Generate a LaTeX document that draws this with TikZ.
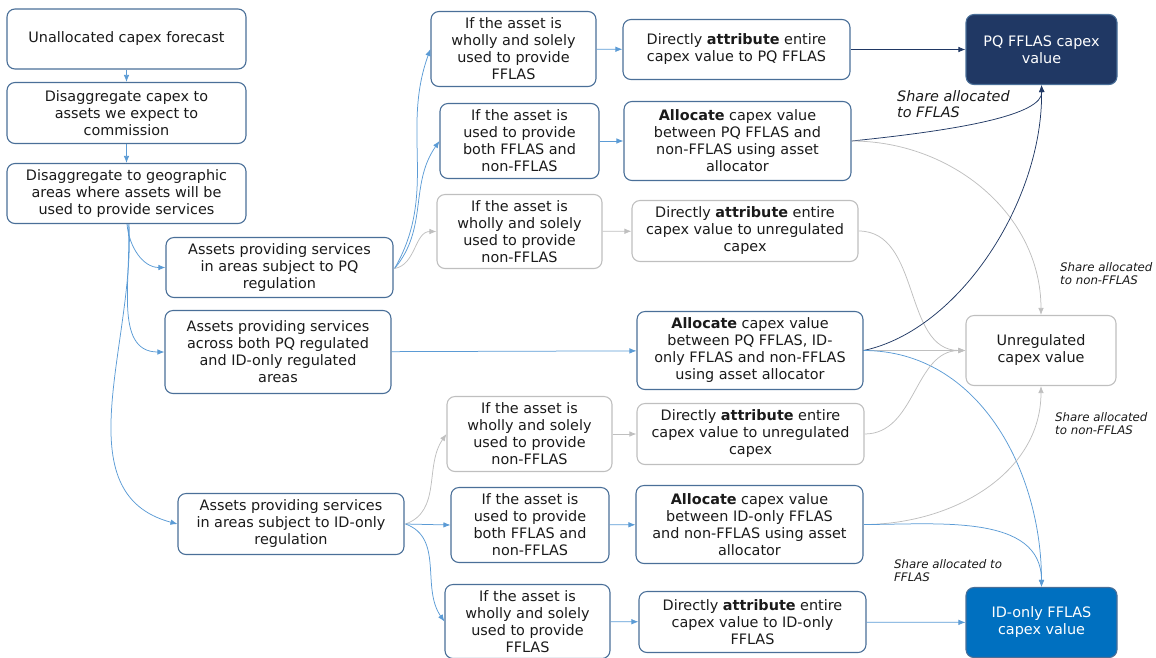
\documentclass[tikz,border=0pt]{standalone}
\usepackage{fontspec}
\setmainfont{DejaVu Sans}
\usetikzlibrary{arrows.meta}
\definecolor{bord}{HTML}{4A6F98}
\definecolor{grayb}{HTML}{BFBFBF}
\definecolor{arblue}{HTML}{5B9BD5}
\definecolor{navy}{HTML}{203864}
\definecolor{idblue}{HTML}{0070C0}
\definecolor{txt}{HTML}{1A1A1A}
\tikzset{
  box/.style={draw=bord, line width=1.1pt, rounded corners=8pt, align=center,
    font=\fontsize{14.4}{17}\selectfont, inner sep=1pt, text=txt},
  gbox/.style={box, draw=grayb},
  ar/.style={-{Latex[length=7pt,width=5.5pt]}, line width=0.75pt},
  bl/.style={ar, draw=arblue},
  nv/.style={ar, draw=navy},
  gr/.style={ar, draw=grayb},
  lblbig/.style={font=\fontsize{14.4}{16}\selectfont\itshape, align=left, inner sep=0pt, anchor=west, text=txt},
  lblsm/.style={font=\fontsize{11.8}{13}\selectfont\itshape, align=left, inner sep=0pt, anchor=west, text=txt}
}
\begin{document}
\begin{tikzpicture}[x=1pt,y=-1pt]
\useasboundingbox (0,0) rectangle (1156,657);
% left column
\node[box, minimum width=239, minimum height=60] (n1) at (126.5,39) {Unallocated capex forecast};
\node[box, minimum width=239, minimum height=61] (n2) at (126.5,113) {Disaggregate capex to\\assets we expect to\\commission};
\node[box, minimum width=239, minimum height=60] (n3) at (126.5,193.5) {Disaggregate to geographic\\areas where assets will be\\used to provide services};
\node[box, minimum width=227, minimum height=60] (n4) at (279.5,267.5) {Assets providing services\\in areas subject to PQ\\regulation};
\node[box, minimum width=226, minimum height=83] (n5) at (278,352) {Assets providing services\\across both PQ regulated\\and ID-only regulated\\areas};
\node[box, minimum width=226, minimum height=61] (n6) at (291,524) {Assets providing services\\in areas subject to ID-only\\regulation};
% PQ group
\node[box, minimum width=165, minimum height=75] (n7) at (513.5,49) {If the asset is\\wholly and solely\\used to provide\\FFLAS};
\node[box, minimum width=159, minimum height=75] (n8) at (519.5,141) {If the asset is\\used to provide\\both FFLAS and\\non-FFLAS};
\node[gbox, minimum width=165, minimum height=74] (n9) at (519.5,231.5) {If the asset is\\wholly and solely\\used to provide\\non-FFLAS};
\node[box, minimum width=227, minimum height=60] (n10) at (736.5,49.5) {Directly \textbf{attribute} entire\\capex value to PQ FFLAS};
\node[box, minimum width=227, minimum height=79] (n11) at (737.5,141) {\textbf{Allocate} capex value\\between PQ FFLAS and\\non-FFLAS using asset\\allocator};
\node[gbox, minimum width=226, minimum height=61] (n12) at (745,231) {Directly \textbf{attribute} entire\\capex value to unregulated\\capex};
\node[box, minimum width=226, minimum height=78] (n13) at (750,350.5) {\textbf{Allocate} capex value\\between PQ FFLAS, ID-\\only FFLAS and non-FFLAS\\using asset allocator};
% ID group
\node[gbox, minimum width=165, minimum height=75] (n14) at (529.5,434) {If the asset is\\wholly and solely\\used to provide\\non-FFLAS};
\node[box, minimum width=158, minimum height=75] (n15) at (530,525) {If the asset is\\used to provide\\both FFLAS and\\non-FFLAS};
\node[box, minimum width=165, minimum height=74] (n16) at (527.5,621.5) {If the asset is\\wholly and solely\\used to provide\\FFLAS};
\node[gbox, minimum width=227, minimum height=61] (n17) at (750.5,434) {Directly \textbf{attribute} entire\\capex value to unregulated\\capex};
\node[box, minimum width=227, minimum height=78] (n18) at (749.5,524.5) {\textbf{Allocate} capex value\\between ID-only FFLAS\\and non-FFLAS using asset\\allocator};
\node[box, minimum width=227, minimum height=61] (n19) at (752.5,622) {Directly \textbf{attribute} entire\\capex value to ID-only\\FFLAS};
% right
\node[box, draw=bord, fill=navy, text=white, minimum width=151, minimum height=70] (n20) at (1041.5,49.5) {PQ FFLAS capex\\value};
\node[gbox, minimum width=150, minimum height=70] (n21) at (1041,350.5) {Unregulated\\capex value};
\node[box, draw=bord, fill=idblue, text=white, minimum width=151, minimum height=70] (n22) at (1041.5,622.5) {ID-only FFLAS\\capex value};
% labels
\node[lblbig] (l1) at (897,104) {Share allocated\\to FFLAS};
\node[lblsm] (l2) at (1060,274) {Share allocated\\to non-FFLAS};
\node[lblsm] (l3) at (1055,424) {Share allocated\\to non-FFLAS};
\node[lblsm] (l4) at (894,571) {Share allocated to\\FFLAS};
% connectors left
\draw[bl] (n1) -- (n2);
\draw[bl] (n2) -- (n3);
\draw[bl] ([xshift=0.5pt]n3.south) to[out=-85,in=180] (n4.west);
\draw[bl] ([xshift=1.5pt]n3.south) to[out=-85,in=180] (n5.west);
\draw[bl] ([xshift=2.5pt]n3.south) to[out=-87,in=165] (n6.west);
% PQ fan
\coordinate (p4) at ([xshift=1pt,yshift=-1pt]n4.east);
\draw[bl] (p4) to[out=60,in=250] (n7.west);
\draw[bl] (p4) to[out=50,in=235] (n8.west);
\draw[gr] (p4) to[out=10,in=180] (n9.west);
\draw[bl] (n7) -- (n10);
\draw[bl] (n8) -- (n11);
\draw[gr] (n9) -- (n12);
\draw[nv] (n10) -- (n20);
\draw[nv] (n11.east) .. controls (960,130) and (1043,115) .. (n20.south);
\draw[gr] (n11.east) to[out=0,in=90] (n21.north);
\draw[gr] (n12.east) to[out=0,in=180] (n21.west);
% middle
\draw[bl] (n5) -- (n13);
\draw[nv] (n13.east) .. controls (960,330) and (1043,200) .. (n20.south);
\draw[gr] (n13.east) -- (n21.west);
\draw[bl] (n13.east) to[out=0,in=90] (n22.north);
% ID fan
\coordinate (p6) at ([xshift=1pt]n6.east);
\draw[gr] (p6) to[out=20,in=235] (n14.west);
\draw[bl] (p6) -- (n15.west);
\draw[bl] (p6) to[out=-20,in=125] (n16.west);
\draw[gr] (n14) -- (n17);
\draw[bl] (n15) -- (n18);
\draw[bl] (n16) -- (n19);
\draw[gr] (n17.east) to[out=0,in=180] (n21.west);
\draw[gr] (n18.east) to[out=0,in=270] (n21.south);
\draw[bl] (n18.east) to[out=0,in=90] (n22.north);
\draw[bl] (n19) -- (n22);
\end{tikzpicture}
\end{document}
